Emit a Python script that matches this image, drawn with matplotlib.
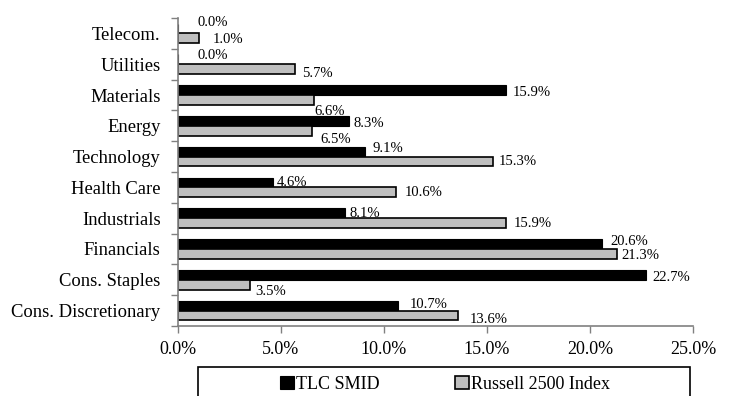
import numpy as np
import matplotlib
matplotlib.use("Agg")
import matplotlib.pyplot as plt
from matplotlib.patches import Rectangle

# ---------------------------------------------------
# Sector weights (%)
# ---------------------------------------------------

sectors = ["Telecom.", "Utilities", "Materials", "Energy", "Technology",
           "Health Care", "Industrials", "Financials", "Cons. Staples",
           "Cons. Discretionary"]

tlc_smid = [0.0, 0.0, 15.9, 8.3, 9.1, 4.6, 8.1, 20.6, 22.7, 10.7]
russell_2500 = [1.0, 5.7, 6.6, 6.5, 15.3, 10.6, 15.9, 21.3, 3.5, 13.6]

series_names = ["TLC SMID", "Russell 2500 Index"]
x_ticks = [0, 5, 10, 15, 20, 25]

# label nudges in points (dx, dy; positive dy = up)
tlc_nudge = [(14, 4), (14, 3), (5, -2), (3, -2), (5, 2), (3, 0), (3, 0), (6, 2), (5, -2), (8, 1)]
rus_nudge = [(10, -1), (5, -3), (0, -8), (6, -6), (4, 0), (6, 0), (6, 0), (3, -1), (4, -5), (8, -3)]

plt.rcParams["font.family"] = ["Liberation Serif", "DejaVu Serif"]

fig = plt.figure(figsize=(7.33, 3.96), dpi=100)
ax = fig.add_axes([0.2428, 0.1768, 0.7026, 0.7777])

y = np.arange(len(sectors))
h = 0.32

ax.barh(y - h / 2, tlc_smid, height=h, color="black", edgecolor="black",
        linewidth=0.8, label=series_names[0])
ax.barh(y + h / 2, russell_2500, height=h, color="#BFBFBF", edgecolor="black",
        linewidth=1.2, label=series_names[1])

# ---------------------------------------------------
# Value labels
# ---------------------------------------------------

for i in range(len(sectors)):
    ax.annotate(f"{tlc_smid[i]:.1f}%", (tlc_smid[i], y[i] - h / 2),
                xytext=tlc_nudge[i], textcoords="offset points",
                ha="left", va="center", fontsize=10.5)
    ax.annotate(f"{russell_2500[i]:.1f}%", (russell_2500[i], y[i] + h / 2),
                xytext=rus_nudge[i], textcoords="offset points",
                ha="left", va="center", fontsize=10.5)

# ---------------------------------------------------
# Axes styling
# ---------------------------------------------------

ax.set_xlim(0, 25)
ax.set_ylim(len(sectors) - 0.5, -0.5)

ax.set_xticks(x_ticks)
ax.set_xticklabels([f"{v:.1f}%" for v in x_ticks], fontsize=13)

ax.set_yticks(np.arange(len(sectors) + 1) - 0.5)
ax.set_yticklabels([])
ax.set_yticks(y, minor=True)
ax.set_yticklabels(sectors, minor=True, fontsize=13.4)

ax.tick_params(axis="y", which="major", length=5, color="#808080", width=1)
ax.tick_params(axis="y", which="minor", length=0, pad=12.5)
ax.tick_params(axis="x", length=5, color="#808080", width=1, pad=6)

for side in ["top", "right"]:
    ax.spines[side].set_visible(False)
for side in ["left", "bottom"]:
    ax.spines[side].set_color("#808080")
    ax.spines[side].set_linewidth(1.2)

# ---------------------------------------------------
# Legend box
# ---------------------------------------------------

fig.patches.append(Rectangle((0.270, -0.05), 0.671, 0.123, transform=fig.transFigure,
                             facecolor="white", edgecolor="black", linewidth=1.2))

handles, labels = ax.get_legend_handles_labels()
fig.legend(handles, labels, loc="center", bbox_to_anchor=(0.607, 0.030),
           ncol=2, frameon=False, fontsize=13, handlelength=0.75,
           handleheight=0.75, handletextpad=0.1, columnspacing=4.2)

fig.savefig("out.png", dpi=100)
